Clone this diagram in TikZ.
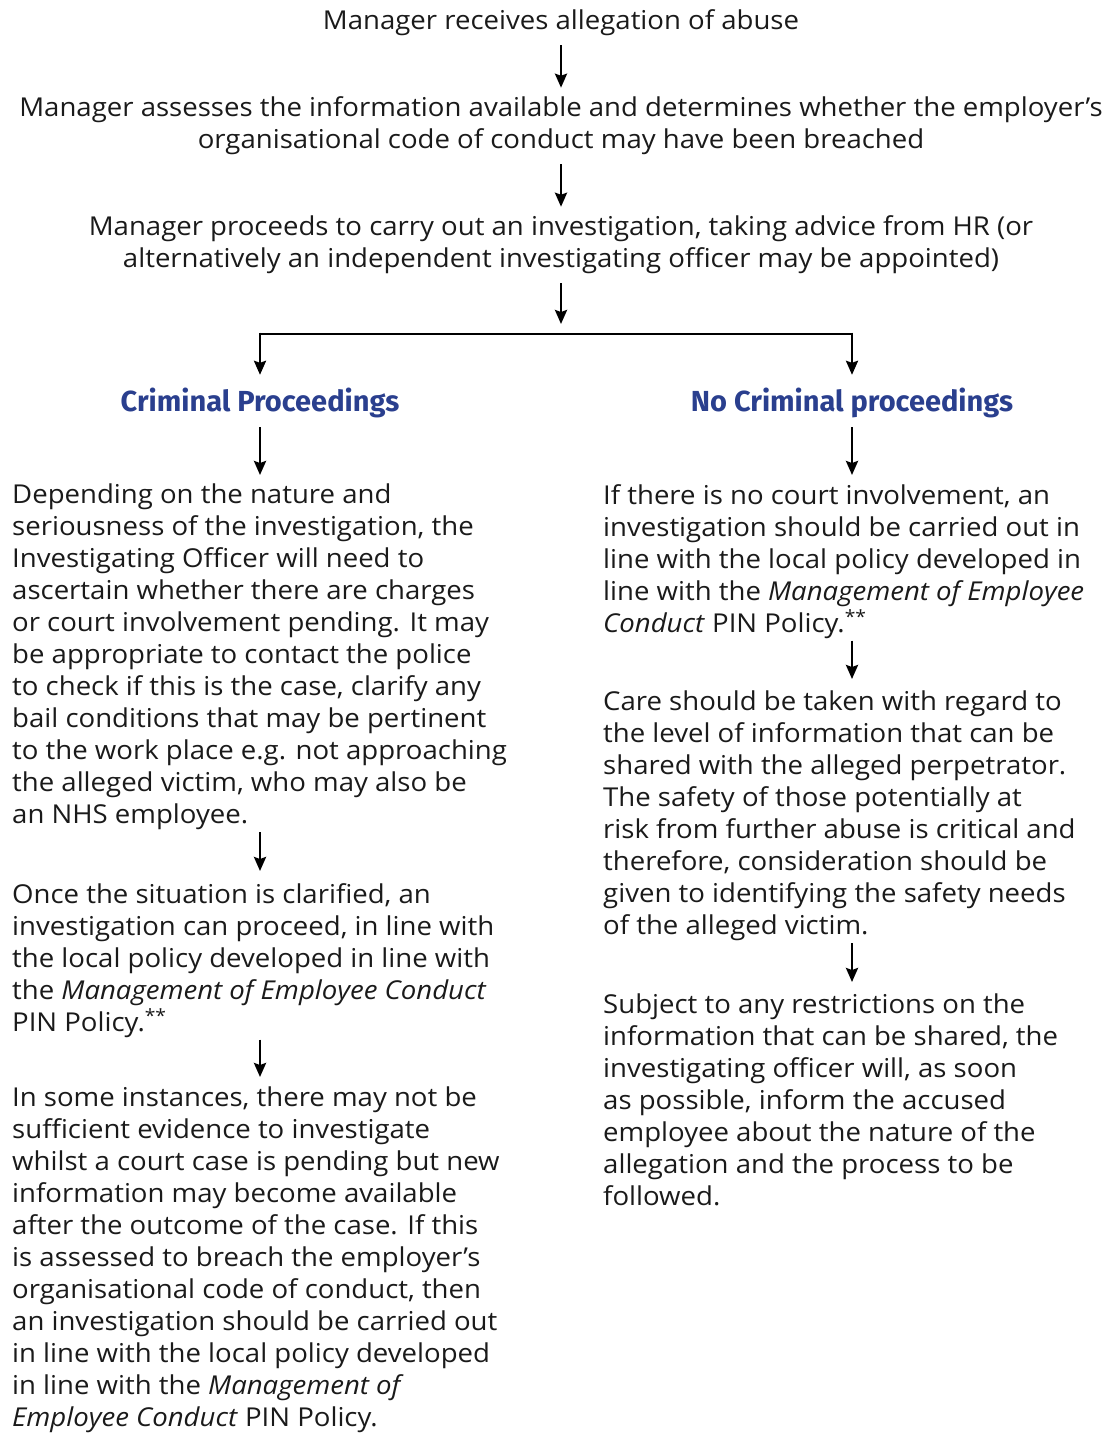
\documentclass[tikz,border=0pt]{standalone}
\usepackage{fontspec}
\setmainfont{Open Sans}[FakeStretch=1.06]
\newfontfamily\headfont{Fira Sans}
\usetikzlibrary{arrows.meta,calc,positioning}
\definecolor{ink}{HTML}{1A1A1A}
\definecolor{headblue}{HTML}{2A3F8E}
\tikzset{x=1pt, y=1pt, arr/.style={-{Stealth[length=14pt,width=12pt,inset=2pt]}, line width=2.6pt, color=black, shorten <=9pt, shorten >=9pt}, txt/.style={font=\fontsize{26}{32}\selectfont, text=ink, inner sep=0pt}, blk/.style={txt, align=left, anchor=north west}, mid/.style={txt, align=center}, head/.style={font=\headfont\bfseries\fontsize{29}{32}\selectfont, text=headblue, inner sep=0pt}}

\begin{document}
\begin{tikzpicture}
\useasboundingbox (0,0) rectangle (1106,-1434);
\node[mid] (recv) at (561,-23) {Manager receives allegation of abuse};
\node[mid] (assess) at (561,-126) {Manager assesses the information available and determines whether the employer’s\\organisational code of conduct may have been breached};
\node[mid] (invest) at (561,-245) {Manager proceeds to carry out an investigation, taking advice from HR (or\\alternatively an independent investigating officer may be appointed)};
\coordinate (fork) at (561,-334);
\node[head] (crim) at (260,-403) {Criminal Proceedings};
\node[head] (nocrim) at (852,-403) {No Criminal proceedings};
% left branch
\node[blk] (depend) at (12,-484) {Depending on the nature and\\seriousness of the investigation, the\\Investigating Officer will need to\\ascertain whether there are charges\\or court involvement pending. It may\\be appropriate to contact the police\\to check if this is the case, clarify any\\bail conditions that may be pertinent\\to the work place e.g. not approaching\\the alleged victim, who may also be\\an NHS employee.};
\node[blk] (clarify) at (12,-883) {Once the situation is clarified, an\\investigation can proceed, in line with\\the local policy developed in line with\\the \textit{Management of Employee Conduct}\\PIN Policy.\textsuperscript{**}};
\node[blk] (instances) at (12,-1087) {In some instances, there may not be\\sufficient evidence to investigate\\whilst a court case is pending but new\\information may become available\\after the outcome of the case. If this\\is assessed to breach the employer’s\\organisational code of conduct, then\\an investigation should be carried out\\in line with the local policy developed\\in line with the \textit{Management of}\\\textit{Employee Conduct} PIN Policy.};
% right branch
\node[blk] (nocourt) at (603,-484) {If there is no court involvement, an\\investigation should be carried out in\\line with the local policy developed in\\line with the \textit{Management of Employee}\\\textit{Conduct} PIN Policy.\textsuperscript{**}};
\node[blk] (care) at (603,-691) {Care should be taken with regard to\\the level of information that can be\\shared with the alleged perpetrator.\\The safety of those potentially at\\risk from further abuse is critical and\\therefore, consideration should be\\given to identifying the safety needs\\of the alleged victim.};
\node[blk] (subject) at (603,-994) {Subject to any restrictions on the\\information that can be shared, the\\investigating officer will, as soon\\as possible, inform the accused\\employee about the nature of the\\allegation and the process to be\\followed.};
% connectors
\draw[arr] (recv) -- (assess);
\draw[arr] (assess) -- (invest);
\draw[arr, shorten >=10pt] (invest) -- (fork);
\draw[line width=2.6pt] (crim |- fork) -- (nocrim |- fork);
\draw[arr, shorten <=-1.3pt, shorten >=13pt] (crim |- fork) -- (crim);
\draw[arr, shorten <=-1.3pt, shorten >=13pt] (nocrim |- fork) -- (nocrim);
\draw[arr] (crim) -- (crim |- depend.north);
\draw[arr] (nocrim) -- (nocrim |- nocourt.north);
\draw[arr, shorten <=2pt, shorten >=12pt] (depend.south -| crim) -- (crim |- clarify.north);
\draw[arr, shorten <=2pt, shorten >=10pt] (clarify.south -| crim) -- (crim |- instances.north);
\draw[arr, shorten <=2pt, shorten >=12pt] (nocourt.south -| nocrim) -- (nocrim |- care.north);
\draw[arr, shorten <=2pt, shorten >=12pt] (care.south -| nocrim) -- (nocrim |- subject.north);
\end{tikzpicture}
\end{document}
